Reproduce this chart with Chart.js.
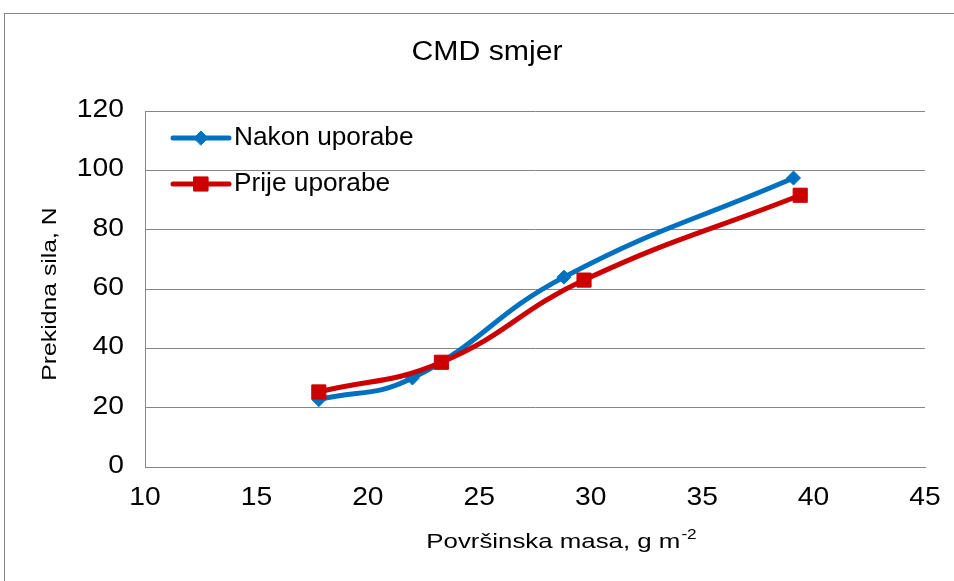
<!DOCTYPE html>
<html>
<head>
<meta charset="utf-8">
<script src="https://cdn.jsdelivr.net/npm/chart.js@4.4.0/dist/chart.umd.min.js"></script>
<style>
html, body { margin: 0; padding: 0; background: #fff; overflow: hidden; }
#frame { position: absolute; left: 4px; top: 13px; width: 1000px; height: 1000px; border: 1px solid #868686; }
#wrap { position: absolute; left: 0; top: 0; width: 954px; height: 581px; }
</style>
</head>
<body>
<div id="frame"></div>
<div id="wrap"><canvas id="myChart" width="954" height="581"></canvas></div>
<script>
// data
var titleText = 'CMD smjer';
var xTitle = 'Površinska masa, g m';
var xTitleSup = '-2';
var yTitle = 'Prekidna sila, N';
var seriesNames = ['Nakon uporabe', 'Prije uporabe'];
var nakonX = [17.8, 22.0, 28.8, 39.1];
var nakonY = [22.7, 30.0, 64.0, 97.4];
var prijeX = [17.8, 23.3, 29.7, 39.4];
var prijeY = [25.3, 35.3, 63.0, 91.6];
var xMin = 10, xMax = 45, xStep = 5;
var yMin = 0, yMax = 120, yStep = 20;

var blue = '#0070C0';
var red = '#CC0000';
var gridGrey = '#868686';
var FONT = 'Arial, "Liberation Sans", sans-serif';

function toPoints(xs, ys) {
    return xs.map(function (x, i) { return { x: x, y: ys[i] }; });
}

// Excel renders its text a bit wider than the browser does, so stretch along the text
function drawText(ctx, text, x, y, size, sx, align, rot) {
    ctx.save();
    ctx.translate(x, y);
    if (rot) ctx.rotate(rot);
    ctx.scale(sx, 1);
    ctx.font = size + 'px ' + FONT;
    ctx.textAlign = align;
    ctx.textBaseline = 'middle';
    ctx.fillStyle = '#000';
    ctx.fillText(text, 0, 0);
    ctx.restore();
}

var textPlugin = {
    id: 'texts',
    afterDraw: function (chart) {
        var ctx = chart.ctx;
        var area = chart.chartArea;
        var xs = chart.scales.x, ys = chart.scales.y;

        // title
        drawText(ctx, titleText, 487, 53, 27, 1.12, 'center');

        // tick labels
        ys.ticks.forEach(function (t) {
            drawText(ctx, String(t.value), area.left - 21, ys.getPixelForValue(t.value) - 1, 25, 1.13, 'right');
        });
        xs.ticks.forEach(function (t) {
            drawText(ctx, String(t.value), xs.getPixelForValue(t.value), 498, 25, 1.13, 'center');
        });

        // axis titles
        drawText(ctx, yTitle, 50, 294, 21, 1.18, 'center', -Math.PI / 2);
        ctx.font = '21px ' + FONT;
        var w1 = ctx.measureText(xTitle).width * 1.23;
        ctx.font = '14px ' + FONT;
        var w2 = ctx.measureText(xTitleSup).width * 1.23;
        var start = 561 - (w1 + w2) / 2;
        drawText(ctx, xTitle, start, 542, 21, 1.23, 'left');
        drawText(ctx, xTitleSup, start + w1 + 1, 535, 14, 1.23, 'left');

        // legend inside the plot
        chart.data.datasets.forEach(function (ds, i) {
            var ly = area.top + 27 + i * 46;
            var lx = area.left + 28;
            ctx.save();
            ctx.strokeStyle = ds.borderColor;
            ctx.fillStyle = ds.backgroundColor;
            ctx.lineWidth = ds.borderWidth;
            ctx.lineCap = 'round';
            ctx.beginPath();
            ctx.moveTo(lx, ly);
            ctx.lineTo(lx + 56, ly);
            ctx.stroke();
            ctx.lineWidth = 1;
            Chart.helpers.drawPoint(ctx, { pointStyle: ds.pointStyle, radius: ds.pointRadius, rotation: 0, borderWidth: 1 }, lx + 28, ly);
            ctx.restore();
            drawText(ctx, ds.label, lx + 61, ly, 25, 1.05, 'left');
        });
    }
};

const update = new Chart('myChart', {
    type: 'line',
    data: {
        datasets: [
            {
                label: seriesNames[0],
                data: toPoints(nakonX, nakonY),
                borderColor: blue,
                backgroundColor: blue,
                borderWidth: 5,
                pointStyle: 'rectRot',
                pointRadius: 7,
                pointBorderWidth: 1,
                tension: 0.45,
                order: 1
            },
            {
                label: seriesNames[1],
                data: toPoints(prijeX, prijeY),
                borderColor: red,
                backgroundColor: red,
                borderWidth: 5,
                pointStyle: 'rect',
                pointRadius: 10,
                pointBorderWidth: 1,
                tension: 0.45,
                order: 0
            }
        ]
    },
    options: {
        responsive: false,
        animation: false,
        devicePixelRatio: 1,
        layout: { padding: { left: 0, right: 29, top: 111, bottom: 0 } },
        plugins: {
            legend: { display: false },
            title: { display: false },
            tooltip: { enabled: false }
        },
        scales: {
            x: {
                type: 'linear',
                min: xMin,
                max: xMax,
                ticks: { stepSize: xStep, display: false },
                grid: { display: false },
                border: { color: gridGrey, width: 1 },
                afterFit: function (s) { s.height = 114; }
            },
            y: {
                min: yMin,
                max: yMax,
                ticks: { stepSize: yStep, display: false },
                grid: { color: gridGrey, lineWidth: 1, drawTicks: false },
                border: { color: gridGrey, width: 1 },
                afterFit: function (s) { s.width = 145; }
            }
        }
    },
    plugins: [textPlugin]
});
</script>
</body>
</html>
